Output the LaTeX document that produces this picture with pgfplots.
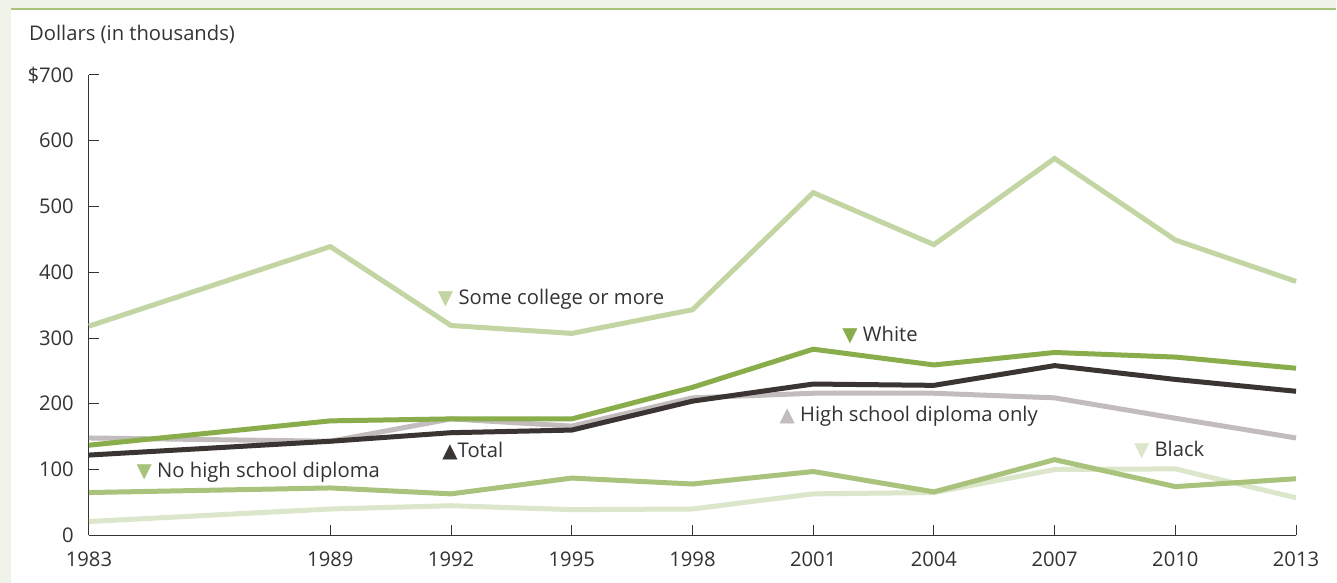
\documentclass[border=0pt]{standalone}
\usepackage{pgfplots}
\pgfplotsset{compat=1.18}
\usepackage{fontspec}
\setmainfont{Open Sans}
\newfontfamily\dejavu{DejaVu Sans}
\definecolor{bgc}{HTML}{EFF3E8}
\definecolor{topline}{HTML}{A9C27C}
\definecolor{cCollege}{HTML}{C3D5A2}
\definecolor{cWhite}{HTML}{8AAD4B}
\definecolor{cTotal}{HTML}{3A3532}
\definecolor{cHS}{HTML}{C2BCBC}
\definecolor{cNoHS}{HTML}{A9C27C}
\definecolor{cBlack}{HTML}{DCE6CB}
\definecolor{txt}{HTML}{333333}
\newcommand{\fnt}{\fontsize{20.3}{24}\selectfont}
\newcommand{\tri}[2]{{\dejavu\fontsize{20}{20}\selectfont\color{#1}#2}}
\begin{document}
\begin{tikzpicture}[x=1bp,y=1bp]
\fill[bgc] (0,0) rectangle (1337,583);
\fill[white] (11,0) rectangle (1337,573);
\draw[topline,line width=2bp] (11,574) -- (1337,574);
\node[anchor=base west,font=\fnt,text=txt,inner sep=0] at (29,542) {Dollars (in thousands)};
\begin{axis}[
  at={(89bp,47.3bp)}, anchor=origin,
  scale only axis, width=1208bp, height=460.7bp,
  xmin=1983, xmax=2013, ymin=0, ymax=700,
  axis lines=left, axis line style={-, line width=1bp, color=txt},
  xtick={1983,1989,1992,1995,1998,2001,2004,2007,2010,2013},
  xticklabels={1983,1989,1992,1995,1998,2001,2004,2007,2010,2013},
  ytick={0,100,...,700},
  yticklabels={0,100,200,300,400,500,600,\$700},
  tick align=inside, major tick length=10bp,
  tick style={line width=1bp, color=txt},
  tick label style={font=\fnt, text=txt, inner sep=0},
  /pgf/number format/assume math mode=true,
  xticklabel style={yshift=-16bp},
  yticklabel style={xshift=-15bp},
  clip=false,
  every axis plot/.append style={line width=5bp, line join=miter, mark=none},
]
\addplot[cBlack] coordinates {(1983,21)(1989,40)(1992,45)(1995,39)(1998,40)(2001,63)(2004,65)(2007,100)(2010,101)(2013,57)};
\addplot[cNoHS] coordinates {(1983,65)(1989,72)(1992,63)(1995,87)(1998,78)(2001,97)(2004,66)(2007,115)(2010,74)(2013,86)};
\addplot[cHS] coordinates {(1983,148)(1989,143)(1992,177)(1995,166)(1998,209)(2001,216)(2004,216)(2007,209)(2010,178)(2013,148)};
\addplot[cCollege] coordinates {(1983,318)(1989,439)(1992,319)(1995,307)(1998,343)(2001,521)(2004,442)(2007,573)(2010,449)(2013,386)};
\addplot[cWhite] coordinates {(1983,137)(1989,174)(1992,177)(1995,177)(1998,225)(2001,283)(2004,259)(2007,278)(2010,271)(2013,254)};
\addplot[cTotal] coordinates {(1983,122)(1989,143)(1992,156)(1995,160)(1998,204)(2001,230)(2004,228)(2007,258)(2010,237)(2013,219)};
\node[anchor=base west,font=\fnt,text=txt,inner sep=0] at (axis cs:1991.67,350.6) {\tri{cCollege}{▼} Some college or more};
\node[anchor=base west,font=\fnt,text=txt,inner sep=0] at (axis cs:2001.72,294.8) {\tri{cWhite}{▼} White};
\node[anchor=base west,font=\fnt,text=txt,inner sep=0] at (axis cs:2000.16,173.2) {\tri{cHS}{▲} High school diploma only};
\node[anchor=base west,font=\fnt,text=txt,inner sep=0] at (axis cs:1991.78,117.6) {\tri{cTotal}{▲}Total};
\node[anchor=base west,font=\fnt,text=txt,inner sep=0] at (axis cs:1984.18,88.1) {\tri{cNoHS}{▼} No high school diploma};
\node[anchor=base west,font=\fnt,text=txt,inner sep=0] at (axis cs:2008.97,120) {\tri{cBlack}{▼} Black};
\end{axis}
\end{tikzpicture}
\end{document}
